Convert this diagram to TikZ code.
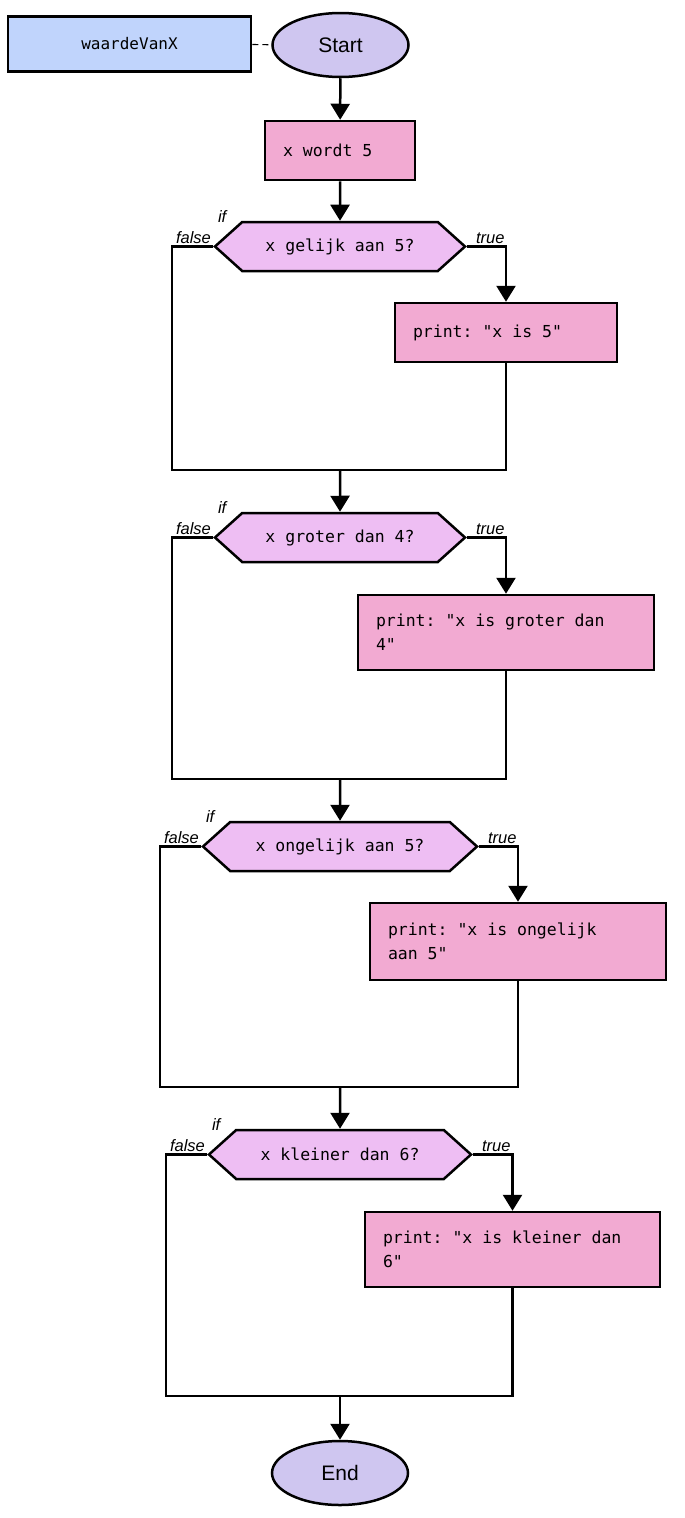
\documentclass[tikz,border=0pt]{standalone}
\usepackage{fontspec}
\setmainfont{Liberation Sans}
\setmonofont{DejaVu Sans Mono}
\usepackage{tikz}
\usetikzlibrary{arrows.meta,calc,positioning,shapes.geometric,shapes.symbols}
\definecolor{varblue}{RGB}{192,212,252}
\definecolor{termlilac}{RGB}{207,198,240}
\definecolor{actpink}{RGB}{242,170,210}
\definecolor{condpink}{RGB}{238,190,243}
\newcommand{\codefont}{\ttfamily\fontsize{16.5}{24}\selectfont}

\begin{document}
\begin{tikzpicture}[x=1pt, y=-1pt, line width=2.5pt, >={Triangle[length=16pt,width=19pt]}]
\tikzset{termnode/.style={ellipse,draw,fill=termlilac,minimum width=136pt,minimum height=64pt,inner sep=0,font=\fontsize{21}{25}\selectfont},
actnode/.style 2 args={rectangle,draw,fill=actpink,text width=#1,minimum height=#2,inner xsep=18pt,inner ysep=0,align=flush left,font=\codefont},
condnode/.style={signal,signal to=west and east,signal pointer angle=84,draw,fill=condpink,minimum width=#1,minimum height=49pt,inner sep=0,font=\codefont},
varnode/.style={rectangle,draw,fill=varblue,minimum width=243pt,minimum height=55pt,font=\ttfamily\fontsize{16}{18}\selectfont},
branchlabel/.style={font=\itshape\fontsize{16.5}{18}\selectfont,inner sep=1pt}}

\useasboundingbox (0,0) rectangle (685,1518);

\node (var) [varnode] at (129.5, 44) {waardeVanX};
\node (start) [termnode] at (340.5, 45) {Start};
\node (init) [actnode={114pt}{59pt}] at (340, 150.5) {x wordt 5};

\node (h1) [condnode=250pt] at (340, 246.5) {x gelijk aan 5?};
\node (p1) [actnode={186pt}{59pt}] at (506, 332.5) {print: "x is 5"};
\coordinate (j1) at (340, 470);

\node (h2) [condnode=250pt] at (340, 537.5) {x groter dan 4?};
\node (p2) [actnode={260pt}{75pt}] at (506, 632.5) {print: "x is groter dan\\4"};
\coordinate (j2) at (340, 779);

\node (h3) [condnode=274pt] at (340, 846.5) {x ongelijk aan 5?};
\node (p3) [actnode={260pt}{77pt}] at (518, 941.5) {print: "x is ongelijk\\aan 5"};
\coordinate (j3) at (340, 1087);

\node (h4) [condnode=262pt] at (340, 1154.5) {x kleiner dan 6?};
\node (p4) [actnode={259pt}{75pt}] at (512.5, 1249.5) {print: "x is kleiner dan\\6"};
\coordinate (j4) at (340, 1396);

\node (stop) [termnode] at (340, 1473) {End};

\foreach \u in {h1, h2, h3, h4} {
  \node (if\u) [branchlabel,anchor=south] at ($(\u.west) + (9,-22)$) {if};
  \node (false\u) [branchlabel,anchor=south east] at ($(\u.west) + (0,-1)$) {false};
  \node (true\u) [branchlabel,anchor=south west] at ($(\u.east) + (7,-1)$) {true};
}

%% Edges
\draw [line width=1.2pt, dash pattern=on 6pt off 4pt] (var) -- (start);
\draw [->] (start) -- (init);
\draw [->] (init) -- (h1);
\foreach \h/\p/\j in {h1/p1/j1, h2/p2/j2, h3/p3/j3, h4/p4/j4} {
  \draw [->] (\h.east) -| (\p.north);
  \draw (\h.west) -- ++(-41,0) |- (\j);
  \draw (\p.south) |- (\j);
}
\draw [->] (j1) -- (h2);
\draw [->] (j2) -- (h3);
\draw [->] (j3) -- (h4);
\draw [->] (j4) -- (stop);

\end{tikzpicture}
\end{document}
